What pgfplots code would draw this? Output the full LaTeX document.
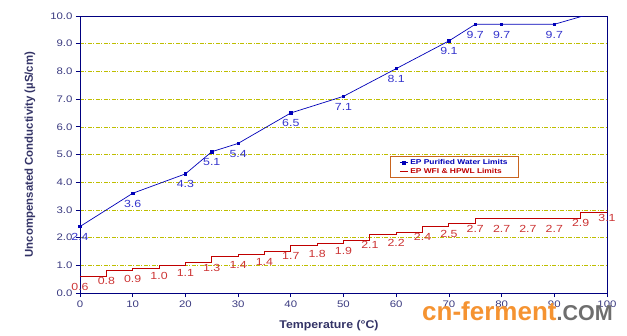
\documentclass[border=0pt]{standalone}
\usepackage{fontspec}
\setmainfont{Liberation Sans}
\newfontfamily\tfont{Liberation Sans}[FakeStretch=1.2]
\newfontfamily\xfont{Liberation Sans}[FakeStretch=1.1]
\usepackage{pgfplots}
\pgfplotsset{compat=1.18}
\definecolor{axblue}{HTML}{000080}
\definecolor{tickc}{HTML}{3A3A80}
\definecolor{labc}{HTML}{333366}
\definecolor{gridc}{HTML}{BEBE00}
\definecolor{pwblue}{HTML}{0000B8}
\definecolor{pwtext}{HTML}{3333CC}
\definecolor{wfired}{HTML}{C00000}
\definecolor{wfitext}{HTML}{CC3333}
\definecolor{legbord}{HTML}{C8641E}
\definecolor{wmorange}{HTML}{F59331}
\definecolor{wmgray}{HTML}{6E6E6E}
\begin{document}
\begin{tikzpicture}
\path[use as bounding box] (-80pt,-42pt) rectangle (547pt,293pt);
\begin{axis}[
  at={(0pt,0pt)}, anchor=south west,
  width=527pt, height=277pt, scale only axis,
  xmin=0, xmax=100, ymin=0, ymax=10,
  xtick={0,10,...,100}, ytick={0,1,...,10},
  axis line style={axblue, line width=0.9pt},
  tick align=outside, xtick pos=bottom, ytick pos=left,
  major tick length=4pt,
  tick style={axblue, line width=0.8pt},
  ymajorgrids,
  major grid style={gridc, dash pattern=on 4pt off 1.5pt on 1pt off 1.5pt, line width=0.6pt},
  /pgf/number format/assume math mode=true,
  yticklabel style={/pgf/number format/.cd, fixed, fixed zerofill, precision=1},
  ticklabel style={font=\tfont\fontsize{9.5}{11}\selectfont, text=tickc},
  every axis y label/.style={at={(axis description cs:-0.0949,0.5)}, rotate=90, anchor=center,
    font=\bfseries\fontsize{11.4}{13}\selectfont, text=labc},
  every axis x label/.style={at={(axis description cs:0.4725,-0.119)}, anchor=center,
    font=\xfont\bfseries\fontsize{11.2}{13}\selectfont, text=labc},
  xlabel={Temperature (°C)},
  ylabel={Uncompensated Conductivity (µS/cm)},
  clip mode=individual,
  legend style={at={(rel axis cs:0.588,0.4946)}, anchor=north west, draw=legbord, line width=0.8pt, fill=white,
    font=\tfont\bfseries\fontsize{7}{8}\selectfont, inner xsep=9pt, inner ysep=1pt, row sep=-2pt},
  legend cell align=left,
  legend image code/.code={\draw[mark repeat=2,mark phase=2,#1] plot coordinates {(0pt,0pt) (4pt,0pt) (8pt,0pt)};},
]
\addplot[pwblue, line width=0.7pt, mark=square*, mark size=1.2pt,
  nodes near coords, point meta=explicit symbolic,
  every node near coord/.append style={font=\tfont\fontsize{10.3}{12}\selectfont, text=pwtext, anchor=north, yshift=-3pt}]
coordinates {
 (0,2.4) [2.4]
 (10,3.6) [3.6]
 (20,4.3) [4.3]
 (25,5.1) [5.1]
 (30,5.4) [5.4]
 (40,6.5) [6.5]
 (50,7.1) [7.1]
 (60,8.1) [8.1]
 (70,9.1) [9.1]
 (75,9.7) [9.7]
 (80,9.7) [9.7]
 (90,9.7) [9.7]
 (100,10.25) []
};
\addlegendentry{\textcolor{pwblue}{EP Purified Water Limits}}
\addplot[wfired, line width=1pt, const plot, mark=none,
  nodes near coords, point meta=explicit symbolic,
  every node near coord/.append style={font=\tfont\fontsize{10.3}{12}\selectfont, text=wfitext, anchor=north, yshift=-3pt}]
coordinates {
 (0,0.6) [0.6]
 (5,0.8) [0.8]
 (10,0.9) [0.9]
 (15,1.0) [1.0]
 (20,1.1) [1.1]
 (25,1.3) [1.3]
 (30,1.4) [1.4]
 (35,1.5) [1.4]
 (40,1.7) [1.7]
 (45,1.8) [1.8]
 (50,1.9) [1.9]
 (55,2.1) [2.1]
 (60,2.2) [2.2]
 (65,2.4) [2.4]
 (70,2.5) [2.5]
 (75,2.7) [2.7]
 (80,2.7) [2.7]
 (85,2.7) [2.7]
 (90,2.7) [2.7]
 (95,2.9) [2.9]
 (100,3.1) [3.1]
};
\addlegendentry{\textcolor{wfired}{EP WFI \& HPWL Limits}}
\end{axis}
\node[anchor=base west, inner sep=0pt, font=\bfseries\fontsize{26}{26}\selectfont, text=wmorange] at (342pt,-27pt)
  {cn-ferment{\fontsize{21.5}{22}\selectfont\color{wmgray}.COM}};
\end{tikzpicture}
\end{document}
